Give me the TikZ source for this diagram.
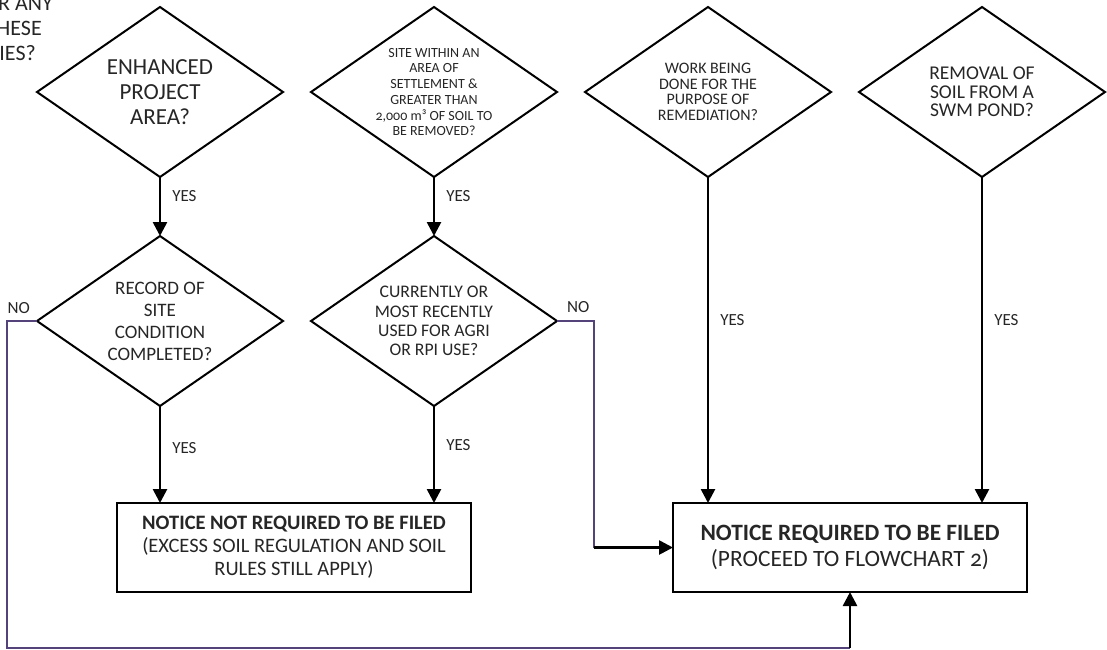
\documentclass[tikz,border=0pt]{standalone}
\usepackage{fontspec}
\setmainfont{Carlito}
\newfontfamily\oldnums{Carlito}[Numbers=OldStyle]
\usetikzlibrary{positioning, arrows.meta, shapes.geometric, calc}
\definecolor{nopurple}{RGB}{84,66,122}

\begin{document}
\begin{tikzpicture}[
        x=1pt, y=-1pt,
        node distance = 59pt and 28pt,
        query/.style = {draw, diamond, aspect=1.45, line width=2pt, minimum width=246pt, minimum height=170pt, inner sep=-6pt, outer sep=0pt, align=center, text=black!85},
        outcome/.style = {draw, rectangle, line width=2.6pt, minimum width=354pt, minimum height=89pt, inner sep=0pt, outer sep=0pt, align=center, text=black!85},
        lbl/.style = {font=\fontsize{17}{20}\selectfont, text=black!85, inner sep=0pt},
        yeslbl/.style = {lbl, anchor=west, xshift=11pt},
        arrow/.style = {-{Triangle[length=14pt, width=14pt]}, line width=2.6pt},
        noline/.style = {draw=nopurple, line width=1.4pt},
    ]
        \useasboundingbox (0,0) rectangle (1107,649);
        % cut-off question at top left
        \node[lbl, font=\fontsize{22}{25}\selectfont, anchor=base east] (intro1) at (53,10) {R ANY};
        \node[lbl, font=\fontsize{22}{25}\selectfont, anchor=base east] (intro2) at (42,35) {HESE};
        \node[lbl, font=\fontsize{22}{25}\selectfont, anchor=base east] (intro3) at (36,60) {IES?};
        % top row of questions
        \node[query, font=\fontsize{23}{25}\selectfont] (enh) at (160,92) {ENHANCED\\PROJECT\\AREA?};
        \node[query, font=\fontsize{14}{15.7}\selectfont, right=of enh] (settle) {SITE WITHIN AN\\AREA OF\\SETTLEMENT \&\\GREATER THAN\\{\oldnums 2,000} m³ OF SOIL TO\\BE REMOVED?};
        \node[query, font=\fontsize{16}{15.5}\selectfont, right=of settle] (remed) {WORK BEING\\DONE FOR THE\\PURPOSE OF\\REMEDIATION?};
        \node[query, font=\fontsize{19.5}{18.5}\selectfont, right=of remed] (swm) {REMOVAL OF\\SOIL FROM A\\SWM POND?};
        % second row
        \node[query, font=\fontsize{19}{22}\selectfont, below=of enh] (rsc) {RECORD OF\\SITE\\CONDITION\\COMPLETED?};
        \node[query, font=\fontsize{17.7}{19.2}\selectfont, below=of settle] (agri) {CURRENTLY OR\\MOST RECENTLY\\USED FOR AGRI\\OR RPI USE?};
        % outcomes
        \node[outcome, font=\fontsize{20.5}{23}\selectfont] (notreq) at (294,547.5) {\textbf{NOTICE NOT REQUIRED TO BE FILED}\\(EXCESS SOIL REGULATION AND SOIL\\RULES STILL APPLY)};
        \node[outcome, font=\fontsize{23.4}{26.7}\selectfont, right=202pt of notreq] (req) {\textbf{NOTICE REQUIRED TO BE FILED}\\(PROCEED TO FLOWCHART {\oldnums 2})};
        % yes branches
        \draw[arrow] (enh) -- node[yeslbl, pos=.32] {YES} (rsc);
        \draw[arrow] (settle) -- node[yeslbl, pos=.33] {YES} (agri);
        \draw[arrow] (rsc) -- node[yeslbl, pos=.43] {YES} (rsc |- notreq.north);
        \draw[arrow] (agri) -- node[yeslbl, pos=.40] {YES} (agri |- notreq.north);
        \draw[arrow] (remed) -- node[yeslbl, pos=.44] {YES} (remed |- req.north);
        \draw[arrow] (swm) -- node[yeslbl, pos=.44] {YES} (swm |- req.north);
        % no branches
        \node[lbl, above left=7pt and 7pt of rsc.west] (no1) {NO};
        \node[lbl, above right=8pt and 10pt of agri.east] (no2) {NO};
        \draw[noline] (rsc.west) -- ++(-30,0) |- ($(req.south)+(0,56)$) coordinate (loopend);
        \draw[arrow] (loopend) -- (req.south);
        \draw[noline] (agri.east) -- ++(37,0) coordinate (nobend) -- (nobend |- req.west) coordinate (nojoin);
        \draw[arrow] (nojoin) -- (req.west);
    \end{tikzpicture}
\end{document}
